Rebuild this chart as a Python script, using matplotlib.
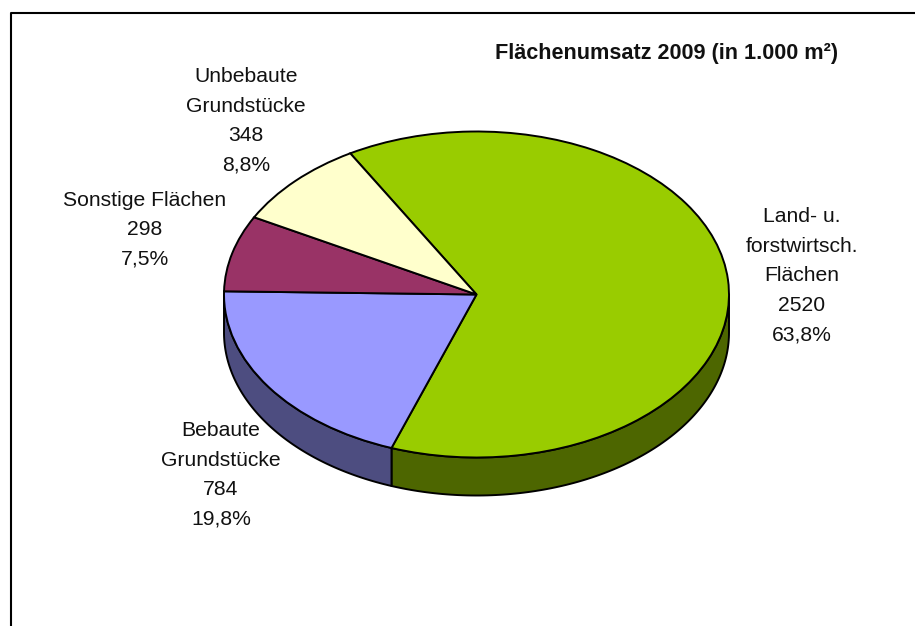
import matplotlib
matplotlib.use("Agg")
import matplotlib.pyplot as plt
import numpy as np

plt.rcParams['font.family'] = ['Liberation Sans', 'DejaVu Sans']

title = "Flächenumsatz 2009 (in 1.000 m²)"
names = ["Land- u.\nforstwirtsch.\nFlächen", "Bebaute\nGrundstücke", "Sonstige Flächen", "Unbebaute\nGrundstücke"]
values = [2520, 784, 298, 348]
percents = ["63,8%", "19,8%", "7,5%", "8,8%"]
top_colors = ["#99CC00", "#9999FF", "#993366", "#FFFFCC"]
side_colors = ["#4D6600", "#4D4D80", "#4D1A33", "#808066"]
# label centres in pixels (x, y of the block middle)
label_pos = [(802, 275.5), (221, 475), (145, 229.5), (246, 121)]

W, H = 915, 626
cx, cy = 476.5, 294.5
rx, ry = 252.5, 163
depth = 38 / ry
start = 120

fig = plt.figure(figsize=(W / 100, H / 100), dpi=100)
ax = fig.add_axes([0, 0, 1, 1])

# sides first, only the front half of the disc is visible
fracs = np.array(values) / sum(values)
edges = start - np.concatenate([[0], np.cumsum(fracs)]) * 360
for i in range(len(values)):
    a0, a1 = edges[i], edges[i + 1]
    # front part is between -180 and 0 degrees
    lo = max(a1, -180)
    hi = min(a0, 0)
    if hi <= lo:
        continue
    t = np.radians(np.linspace(hi, lo, 120))
    xs = np.concatenate([np.cos(t), np.cos(t[::-1])])
    ys = np.concatenate([np.sin(t), np.sin(t[::-1]) - depth])
    ax.fill(xs, ys, facecolor=side_colors[i], edgecolor="black", lw=1.4, joinstyle="round")

ax.pie(values, colors=top_colors, startangle=start, counterclock=False, radius=1,
       wedgeprops=dict(edgecolor="black", linewidth=1.4))

ax.set_aspect('auto')
ax.set_xlim((0 - cx) / rx, (W - cx) / rx)
ax.set_ylim((cy - H) / ry, cy / ry)
ax.set_xticks([])
ax.set_yticks([])
ax.axis("off")

# chart border, right and bottom run off the picture
fig.add_artist(plt.Line2D([11 / W, 11 / W, 1], [0, 1 - 13 / H, 1 - 13 / H], color="black", lw=1.5))

for name, val, pct, (px, py) in zip(names, values, percents, label_pos):
    fig.text(px / W, 1 - py / H, "%s\n%d\n%s" % (name, val, pct), ha="center", va="center",
             fontsize=15.2, color="#111111", linespacing=1.7)

fig.text(667 / W, 1 - 53.5 / H, title, ha="center", va="center", fontsize=15.6, fontweight="bold", color="#111111")

fig.savefig("out.png", dpi=100, facecolor="white")
